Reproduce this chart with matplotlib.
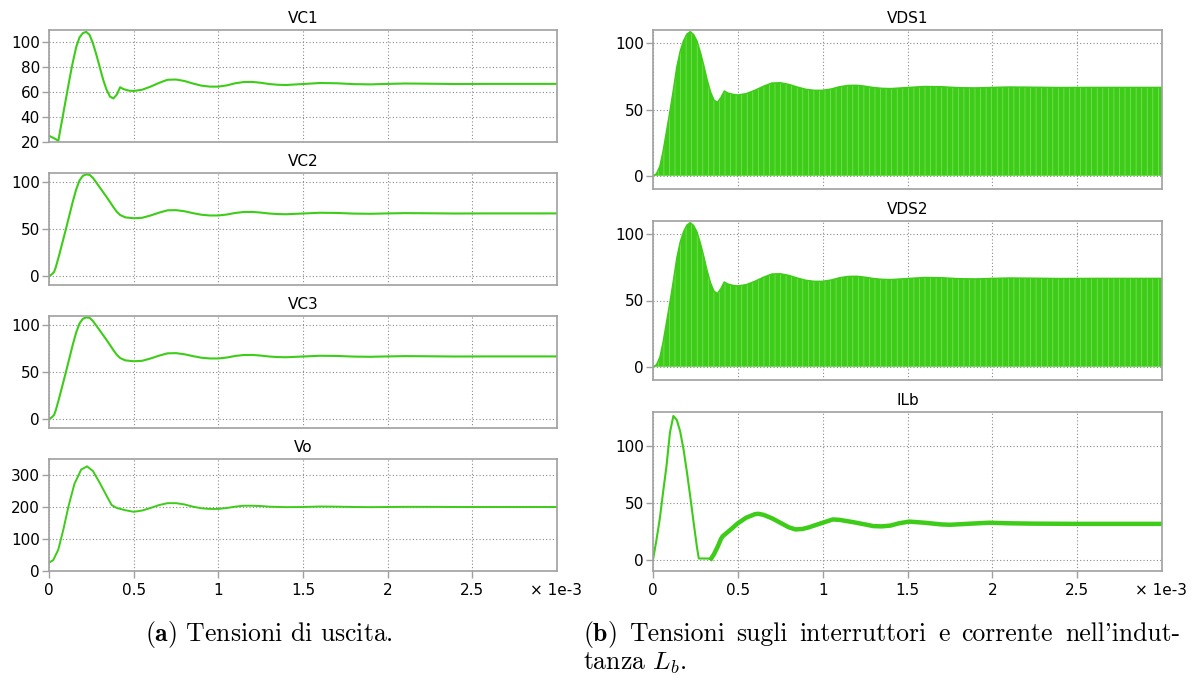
import matplotlib
matplotlib.use("Agg")
import matplotlib.pyplot as plt

plt.rcParams["font.family"] = "DejaVu Sans"
plt.rcParams["mathtext.fontset"] = "cm"
plt.rcParams["hatch.linewidth"] = 0.5

# ---------------------------------------------------------------- data (time in ms)
x_ticks = [0, 0.5, 1, 1.5, 2, 2.5]
x_tick_labels = ["0", "0.5", "1", "1.5", "2", "2.5"]

# common settling tail shared by the capacitor / switch voltages (t >= 0.55 ms)
t_tail = [0.55, 0.60, 0.65, 0.70, 0.75, 0.80, 0.85, 0.90, 0.95, 1.00, 1.05, 1.10,
          1.15, 1.20, 1.25, 1.30, 1.35, 1.40, 1.50, 1.60, 1.70, 1.80, 1.90, 2.00,
          2.10, 2.20, 2.40, 2.60, 2.80, 3.00]
v_tail = [62.0, 64.5, 67.5, 70.0, 70.2, 69.0, 67.0, 65.3, 64.5, 64.5, 65.5, 67.2,
          68.2, 68.3, 67.6, 66.6, 66.0, 65.8, 66.6, 67.4, 67.2, 66.5, 66.3, 66.7,
          67.0, 66.9, 66.6, 66.7, 66.7, 66.7]

t_vc1 = [0, 0.03, 0.055, 0.08, 0.10, 0.12, 0.135, 0.16, 0.18, 0.20, 0.22, 0.24,
         0.26, 0.28, 0.30, 0.32, 0.34, 0.36, 0.38, 0.40, 0.42, 0.44, 0.47, 0.50] + t_tail
vc1 = [25.0, 23.0, 21.0, 39.7, 54.7, 69.6, 80.5, 96.0, 104.0, 107.5, 108.5, 106.0,
       99.0, 90.0, 80.0, 70.0, 62.0, 56.5, 55.0, 58.0, 64.0, 62.5, 61.3, 61.0] + v_tail

t_vc2 = [0, 0.01, 0.02, 0.03, 0.04, 0.06, 0.08, 0.10, 0.12, 0.14, 0.16, 0.18, 0.20,
         0.22, 0.24, 0.26, 0.28, 0.30, 0.32, 0.34, 0.36, 0.38, 0.40, 0.42, 0.45,
         0.50] + t_tail
vc2 = [0.0, 0.5, 2.0, 4.0, 9.0, 22.0, 36.0, 50.0, 64.5, 79.0, 92.0, 102.0, 107.0,
       108.5, 108.0, 104.7, 99.6, 94.5, 89.4, 84.3, 79.0, 73.5, 68.5, 65.0, 62.5,
       61.5] + v_tail

t_vc3 = list(t_vc2)
vc3 = [0.0, 0.5, 2.0, 4.0, 9.0, 22.0, 36.0, 50.0, 64.5, 79.0, 92.0, 102.0, 107.0,
       108.5, 108.0, 104.5, 99.5, 94.5, 89.4, 84.3, 79.0, 73.5, 68.5, 65.0, 62.5,
       61.5] + v_tail

t_vo = [0, 0.025, 0.055, 0.085, 0.115, 0.15, 0.19, 0.225, 0.26, 0.30, 0.33, 0.37,
        0.40, 0.45, 0.50, 0.55, 0.60, 0.65, 0.70, 0.75, 0.80, 0.85, 0.90, 0.95,
        1.00, 1.05, 1.10, 1.15, 1.20, 1.25, 1.30, 1.40, 1.50, 1.60, 1.70, 1.80,
        1.90, 2.00, 2.10, 2.20, 2.40, 2.60, 2.80, 3.00]
vo = [26, 34, 67, 130, 202, 272, 317, 327, 312, 275, 245, 206, 197, 190, 185, 189,
      197, 206, 212, 212, 208, 201, 196, 194, 194, 197, 201, 204, 204, 203, 201,
      199.5, 200, 201.5, 201, 200, 199.5, 200, 200.5, 200.5, 200, 200, 200, 200]

t_vds1 = [0, 0.02, 0.04, 0.06, 0.08, 0.10, 0.12, 0.14, 0.16, 0.18, 0.20, 0.22,
          0.24, 0.26, 0.28, 0.30, 0.32, 0.34, 0.36, 0.38, 0.40, 0.42, 0.44, 0.47,
          0.50] + t_tail
vds1 = [0.0, 1.5, 7.0, 19.0, 34.0, 49.0, 65.0, 82.0, 94.0, 102.0, 107.0, 108.8,
        106.5, 101.5, 93.0, 83.0, 72.0, 63.0, 57.0, 55.5, 59.0, 64.0, 62.5, 61.5,
        61.0] + v_tail

t_vds2 = list(t_vds1)
vds2 = [0.0, 1.5, 7.0, 19.0, 34.0, 49.0, 65.0, 82.0, 94.0, 102.0, 107.0, 108.8,
        106.5, 101.5, 93.0, 83.0, 72.0, 63.0, 57.0, 55.3, 59.0, 64.0, 62.5, 61.5,
        61.0] + v_tail

t_ilb = [0, 0.02, 0.04, 0.06, 0.08, 0.10, 0.12, 0.14, 0.16, 0.18, 0.20, 0.22, 0.24,
         0.26, 0.27, 0.30, 0.343, 0.36, 0.38, 0.40, 0.41, 0.43, 0.45, 0.50, 0.55,
         0.60, 0.62, 0.65, 0.70, 0.75, 0.80, 0.84, 0.88, 0.92, 0.96, 1.00, 1.06,
         1.10, 1.18, 1.25, 1.30, 1.35, 1.40, 1.45, 1.51, 1.60, 1.70, 1.75, 1.85,
         1.98, 2.10, 2.24, 2.50, 3.00]
ilb = [0.0, 17.0, 36.0, 60.0, 83.0, 112.0, 126.5, 123.0, 113.0, 97.0, 77.0, 55.0,
       32.0, 10.0, 1.0, 1.0, 1.0, 5.0, 11.0, 18.0, 20.5, 23.0, 25.5, 32.0, 37.0,
       40.0, 40.4, 39.5, 36.5, 32.5, 28.5, 26.6, 27.0, 28.5, 30.5, 32.5, 35.4, 35.0,
       33.0, 31.0, 29.5, 29.3, 30.0, 32.0, 33.5, 32.5, 31.0, 30.7, 31.5, 32.5, 32.0,
       31.7, 31.5, 31.5]

caption_a = r"$\mathbf{(a)}$ Tensioni di uscita."
caption_b_line1 = [r"$\mathbf{(b)}$", "Tensioni", "sugli", "interruttori", "e",
                   "corrente", "nell'indut-"]
caption_b_line2 = r"tanza $L_b$."

# ---------------------------------------------------------------- styling
GREEN = "#3dcc18"
GREEN_LIGHT = "#86e266"
FRAME = "#a0a0a0"
W, H = 1196, 684

fig = plt.figure(figsize=(W / 100, H / 100), dpi=100)


def add_axes(left, right, top, bottom):
    return fig.add_axes([left / W, 1 - bottom / H, (right - left) / W, (bottom - top) / H])


def style(ax, title, ylim, yticks, show_x):
    ax.set_xlim(0, 3)
    ax.set_ylim(*ylim)
    ax.set_xticks(x_ticks)
    ax.set_yticks(yticks)
    ax.set_axisbelow(True)
    ax.grid(True, color="#8a8a8a", linestyle=(0, (1, 2)), linewidth=0.8)
    for sp in ax.spines.values():
        sp.set_color(FRAME)
        sp.set_linewidth(1.2)
    ax.tick_params(axis="y", direction="out", length=5, width=1, color=FRAME,
                   pad=1.5, labelsize=11)
    if show_x:
        ax.set_xticklabels(x_tick_labels)
        ax.tick_params(axis="x", direction="out", length=5, width=1, color=FRAME,
                       pad=3.5, labelsize=11)
        ax.annotate("\u00d7 1e-3", xy=(1.0, 0.0), xycoords="axes fraction",
                    xytext=(-1, -8.5), textcoords="offset points",
                    ha="center", va="top", fontsize=11)
    else:
        ax.tick_params(axis="x", length=0, labelbottom=False)
    ax.set_title(title, fontsize=11, pad=5)


def trace(ax, t, v, lw=1.5):
    ax.plot(t, v, color=GREEN, lw=lw, solid_joinstyle="round")


def switched(ax, t, v):
    ax.fill_between(t, 0, v, facecolor=GREEN, edgecolor=GREEN_LIGHT, hatch="|||",
                    linewidth=0)
    ax.plot(t, v, color=GREEN, lw=1.0)


# left column: output voltages
L0, L1 = 49, 557
ax_vc1 = add_axes(L0, L1, 30, 142)
trace(ax_vc1, t_vc1, vc1)
style(ax_vc1, "VC1", (20, 110), [20, 40, 60, 80, 100], False)

ax_vc2 = add_axes(L0, L1, 173, 285)
trace(ax_vc2, t_vc2, vc2)
style(ax_vc2, "VC2", (-10, 110), [0, 50, 100], False)

ax_vc3 = add_axes(L0, L1, 316, 428)
trace(ax_vc3, t_vc3, vc3)
style(ax_vc3, "VC3", (-10, 110), [0, 50, 100], False)

ax_vo = add_axes(L0, L1, 459, 571)
trace(ax_vo, t_vo, vo, lw=1.4)
style(ax_vo, "Vo", (0, 350), [0, 100, 200, 300], True)

# right column: switch voltages and inductor current
R0, R1 = 653, 1162
ax_vds1 = add_axes(R0, R1, 30, 189)
switched(ax_vds1, t_vds1, vds1)
style(ax_vds1, "VDS1", (-10, 110), [0, 50, 100], False)

ax_vds2 = add_axes(R0, R1, 221, 380)
switched(ax_vds2, t_vds2, vds2)
style(ax_vds2, "VDS2", (-10, 110), [0, 50, 100], False)

ax_ilb = add_axes(R0, R1, 412, 571)
n_thin = t_ilb.index(0.343) + 1
trace(ax_ilb, t_ilb[:n_thin], ilb[:n_thin], lw=1.5)
trace(ax_ilb, t_ilb[n_thin - 1:], ilb[n_thin - 1:], lw=3.2)
style(ax_ilb, "ILb", (-10, 130), [0, 50, 100], True)

# captions (serif, justified first line for the right column)
cap = dict(fontfamily="cmr10", fontsize=18.5, va="baseline", ha="left")
base1, base2 = 1 - 641 / H, 1 - 670 / H
fig.text(145 / W, base1, caption_a, **cap)
fig.text(583 / W, base2, caption_b_line2, **cap)

renderer = fig.canvas.get_renderer()
words = [fig.text(0, base1, w, **cap) for w in caption_b_line1]
widths = [w.get_window_extent(renderer).width for w in words]
x_start, x_end = 583, 1180
gap = (x_end - x_start - sum(widths)) / (len(words) - 1)
x = x_start
for w, wd in zip(words, widths):
    w.set_x(x / W)
    x += wd + gap

fig.savefig("out.png", dpi=100, facecolor="white")
